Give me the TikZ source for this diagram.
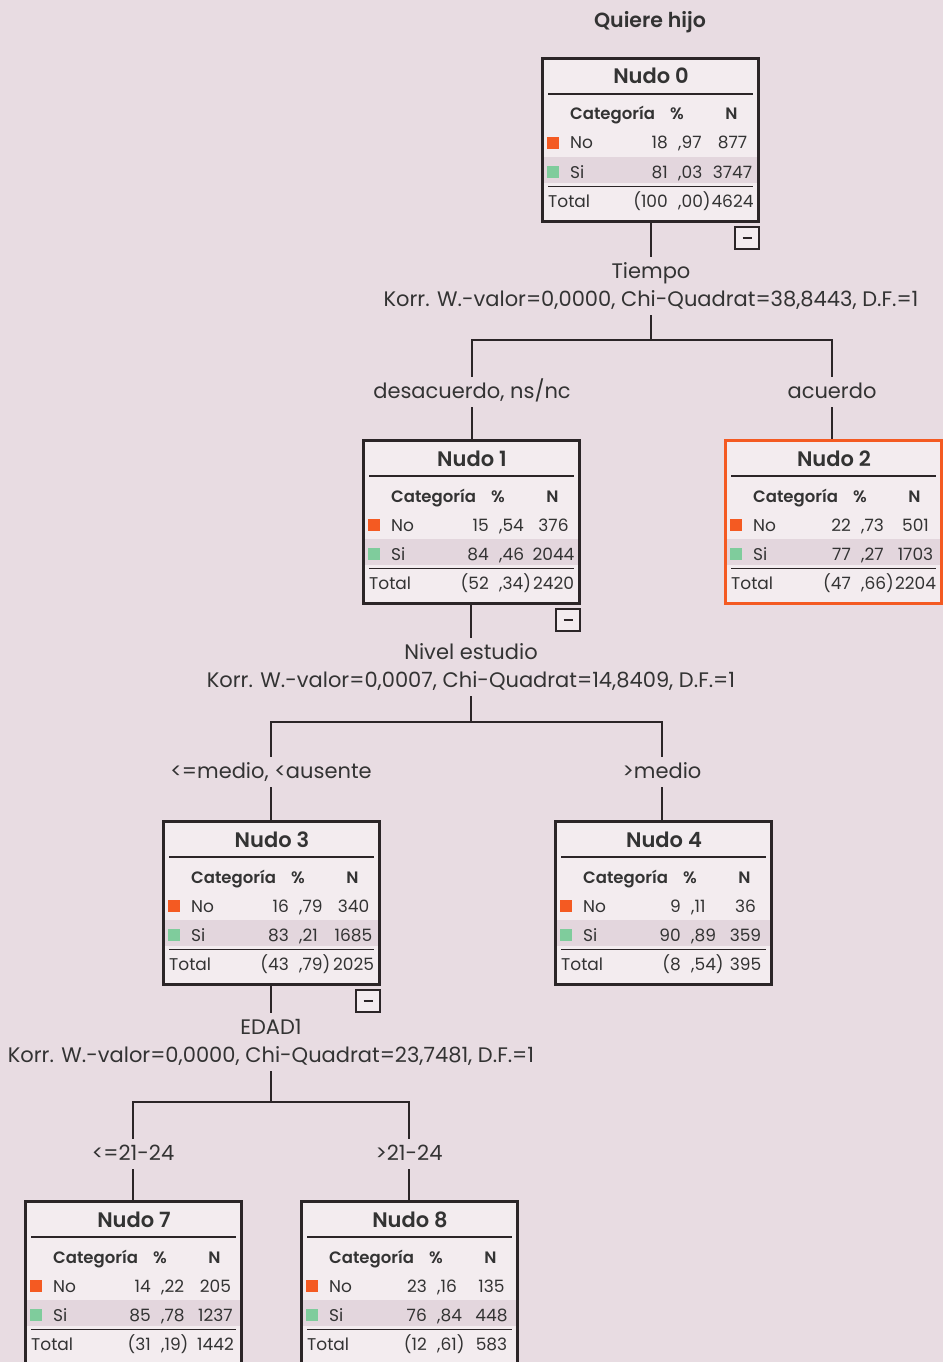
\documentclass[tikz,border=0pt]{standalone}
\usepackage{fontspec}
\setmainfont{Poppins}[BoldFont={Poppins SemiBold}]
\usetikzlibrary{calc}
\definecolor{bg}{HTML}{E8DCE2}
\definecolor{boxfill}{HTML}{F3ECEF}
\definecolor{band}{HTML}{E3D6DD}
\definecolor{dark}{HTML}{2B2527}
\definecolor{txt}{HTML}{333333}
\definecolor{orng}{HTML}{F45A22}
\definecolor{grn}{HTML}{7FCC9C}
\tikzset{
  conn/.style={draw=dark, line width=2.6pt},
  nbox/.style={draw=dark, line width=2.6pt, fill=boxfill, rectangle,
    minimum width=216.4pt, minimum height=163.4pt, inner sep=0pt},
  minusbox/.style={draw=dark, line width=2.4pt, fill=boxfill, rectangle,
    minimum width=23.6pt, minimum height=21.6pt, inner sep=0pt},
  lbl/.style={font=\fontsize{21}{24}\selectfont, text=txt, text height=17pt,
    text depth=5pt, inner ysep=4pt, inner xsep=2pt, anchor=base},
  ttl/.style={font=\bfseries\fontsize{21}{24}\selectfont, text=txt, anchor=base, inner sep=0pt},
  cell/.style={font=\fontsize{17}{20}\selectfont, text=txt, inner sep=0pt},
  cellb/.style={font=\bfseries\fontsize{16.5}{20}\selectfont, text=txt, inner sep=0pt},
}
\newcommand\nudo[5]{%
  \node[nbox, draw=#5] (#1) at (#2+109.5,#3+83) {};
  \coordinate (#1o) at (#2,#3);
  \begin{scope}[shift={(#1o)}]
    \fill[band] (2.6,100) rectangle (216.4,126);
    \node[ttl] (#1t) at (110,27) {Nudo #4};
    \draw[dark, line width=2pt] (7,37) -- (212,37);
    \draw[dark, line width=1pt] (7,129) -- (212,129);
    \node[cellb, anchor=base west] (#1hc) at (29,63) {Categoría};
    \node[cellb, anchor=base] (#1hp) at (136,63) {\%};
    \node[cellb, anchor=base] (#1hn) at (190.5,63) {N};
    \fill[orng] (6,80) rectangle (17.5,91.5);
    \fill[grn] (6,109) rectangle (17.5,120.5);
  \end{scope}}
\newcommand\nrow[7]{%
  \begin{scope}[shift={(#1o)}]
    \node[cell, anchor=base west] (#1-#2-l) at (#7,#2) {#3};
    \node[cell, anchor=base east] (#1-#2-i) at (127,#2) {#4};
    \node[cell, anchor=base west] (#1-#2-d) at (137,#2) {#5};
    \node[cell, anchor=base] (#1-#2-n) at (191.5,#2) {#6};
  \end{scope}}
\newcommand\minus[1]{%
  \node[minusbox] (#1m) at ($(#1o)+(206,181)$) {\textcolor{dark}{\rule[0pt]{9pt}{2.2pt}}};}
\begin{document}
\begin{tikzpicture}[x=1pt,y=-1pt]
\useasboundingbox (0,0) rectangle (943,1362);
\clip (0,0) rectangle (943,1362);
\fill[bg] (0,0) rectangle (943,1362);

\node[ttl, font=\bfseries\fontsize{20.5}{24}\selectfont] (q) at (650,28) {Quiere hijo};

% boxes
\nudo{n0}{541}{57}{0}{dark}
\nrow{n0}{92}{No}{18}{,97}{877}{29}
\nrow{n0}{121}{Si}{81}{,03}{3747}{29}
\nrow{n0}{150}{Total}{(100}{,00)}{4624}{7}
\minus{n0}

\nudo{n1}{362}{439}{1}{dark}
\nrow{n1}{92}{No}{15}{,54}{376}{29}
\nrow{n1}{121}{Si}{84}{,46}{2044}{29}
\nrow{n1}{150}{Total}{(52}{,34)}{2420}{7}
\minus{n1}

\nudo{n2}{724}{439}{2}{orng}
\nrow{n2}{92}{No}{22}{,73}{501}{29}
\nrow{n2}{121}{Si}{77}{,27}{1703}{29}
\nrow{n2}{150}{Total}{(47}{,66)}{2204}{7}

\nudo{n3}{162}{820}{3}{dark}
\nrow{n3}{92}{No}{16}{,79}{340}{29}
\nrow{n3}{121}{Si}{83}{,21}{1685}{29}
\nrow{n3}{150}{Total}{(43}{,79)}{2025}{7}
\minus{n3}

\nudo{n4}{554}{820}{4}{dark}
\nrow{n4}{92}{No}{9}{,11}{36}{29}
\nrow{n4}{121}{Si}{90}{,89}{359}{29}
\nrow{n4}{150}{Total}{(8}{,54)}{395}{7}

\nudo{n7}{24}{1200}{7}{dark}
\nrow{n7}{92}{No}{14}{,22}{205}{29}
\nrow{n7}{121}{Si}{85}{,78}{1237}{29}
\nrow{n7}{150}{Total}{(31}{,19)}{1442}{7}

\nudo{n8}{300}{1200}{8}{dark}
\nrow{n8}{92}{No}{23}{,16}{135}{29}
\nrow{n8}{121}{Si}{76}{,84}{448}{29}
\nrow{n8}{150}{Total}{(12}{,61)}{583}{7}

% level 1
\node[lbl] (s0) at (651,278) {Tiempo};
\node[lbl] (k0) at (651,306) {Korr. W.-valor=0,0000, Chi-Quadrat=38,8443, D.F.=1};
\coordinate (j0) at (651,340);
\node[lbl] (b1) at (472,398) {desacuerdo, ns/nc};
\node[lbl] (b2) at (832,398) {acuerdo};
\draw[conn] (n0.south -| s0.north) -- (s0.north);
\draw[conn] (k0.south) -- (j0);
\draw[conn] (b1.north) |- (j0) -| (b2.north);
\draw[conn] (b1.south) -- (b1.south |- n1.north);
\draw[conn] (b2.south) -- (b2.south |- n2.north);

% level 2
\node[lbl] (s1) at (471,659) {Nivel estudio};
\node[lbl] (k1) at (471,687) {Korr. W.-valor=0,0007, Chi-Quadrat=14,8409, D.F.=1};
\coordinate (j1) at (471,722);
\node[lbl] (b3) at (271,778) {<=medio, <ausente};
\node[lbl] (b4) at (662,778) {>medio};
\draw[conn] (n1.south -| s1.north) -- (s1.north);
\draw[conn] (k1.south) -- (j1);
\draw[conn] (b3.north) |- (j1) -| (b4.north);
\draw[conn] (b3.south) -- (b3.south |- n3.north);
\draw[conn] (b4.south) -- (b4.south |- n4.north);

% level 3
\node[lbl] (s3) at (271,1034) {EDAD1};
\node[lbl] (k3) at (271,1062) {Korr. W.-valor=0,0000, Chi-Quadrat=23,7481, D.F.=1};
\coordinate (j3) at (271,1102);
\node[lbl] (b7) at (133,1160) {<=21-24};
\node[lbl] (b8) at (409,1160) {>21-24};
\draw[conn] (n3.south -| s3.north) -- (s3.north);
\draw[conn] (k3.south) -- (j3);
\draw[conn] (b7.north) |- (j3) -| (b8.north);
\draw[conn] (b7.south) -- (b7.south |- n7.north);
\draw[conn] (b8.south) -- (b8.south |- n8.north);
\end{tikzpicture}
\end{document}
